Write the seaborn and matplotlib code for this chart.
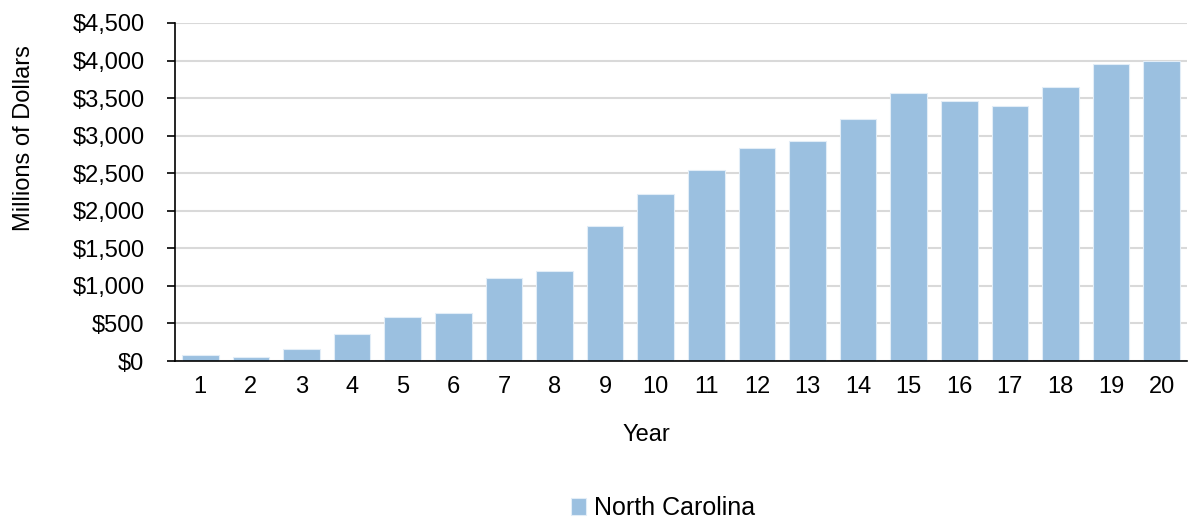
import matplotlib
matplotlib.use("Agg")
import matplotlib.pyplot as plt
import matplotlib.ticker as mticker
import numpy as np
import pandas as pd
import seaborn as sns

# data (millions of dollars)
years = [str(i) for i in range(1, 21)]
values = [82, 55, 160, 365, 588, 642, 1105, 1203, 1791, 2219,
          2549, 2833, 2931, 3216, 3568, 3466, 3390, 3645, 3951, 4000]
series_name = "North Carolina"

df = pd.DataFrame({"Year": years, "Value": values})

sns.set_theme(style="white")
plt.rcParams["font.family"] = ["Liberation Sans", "DejaVu Sans"]

fs = 17
fig = plt.figure(figsize=(11.88, 5.2), dpi=100)
ax = fig.add_axes([175 / 1188, 159 / 520, 1012 / 1188, 338 / 520])

sns.barplot(data=df, x="Year", y="Value", color="#9bc0e0", saturation=1,
            width=0.72, edgecolor="#e2edf7", linewidth=0.8, label=series_name, ax=ax)

ax.set_ylim(0, 4500)
ax.set_xlim(-0.5, len(years) - 0.5)
ax.yaxis.set_major_locator(mticker.MultipleLocator(500))
ax.yaxis.set_major_formatter(mticker.FuncFormatter(lambda v, p: f"${v:,.0f}"))
ax.grid(axis="y", color="#d9d9d9", linewidth=1.5)
ax.set_axisbelow(True)

for s in ["top", "right"]:
    ax.spines[s].set_visible(False)
for s in ["left", "bottom"]:
    ax.spines[s].set_color("black")
    ax.spines[s].set_linewidth(1.2)

# tick marks sit between the bars
ax.set_xticks(np.arange(-0.5, len(years), 1.0), minor=True)
ax.tick_params(axis="x", which="major", length=0, pad=11, labelsize=fs, colors="black")
ax.tick_params(axis="x", which="minor", length=6, width=1.2, color="black", direction="out")
ax.tick_params(axis="y", which="major", length=6, width=1.2, color="black", left=True,
               labelsize=fs, labelcolor="black", pad=16)

ax.set_xlabel("Year", fontsize=fs, color="black")
ax.xaxis.set_label_coords(0.466, -0.185)
ax.set_ylabel("Millions of Dollars", fontsize=fs, color="black")
ax.yaxis.set_label_coords(-0.138, 0.66)

handles, labels = ax.get_legend_handles_labels()
fig.legend(handles, labels, loc="center", bbox_to_anchor=(663 / 1188, 1 - 508 / 520),
           frameon=False, fontsize=18, handlelength=0.6, handleheight=0.7,
           handletextpad=0.3, labelcolor="black")
if ax.get_legend() is not None:
    ax.get_legend().remove()

fig.savefig("out.png", dpi=100)
